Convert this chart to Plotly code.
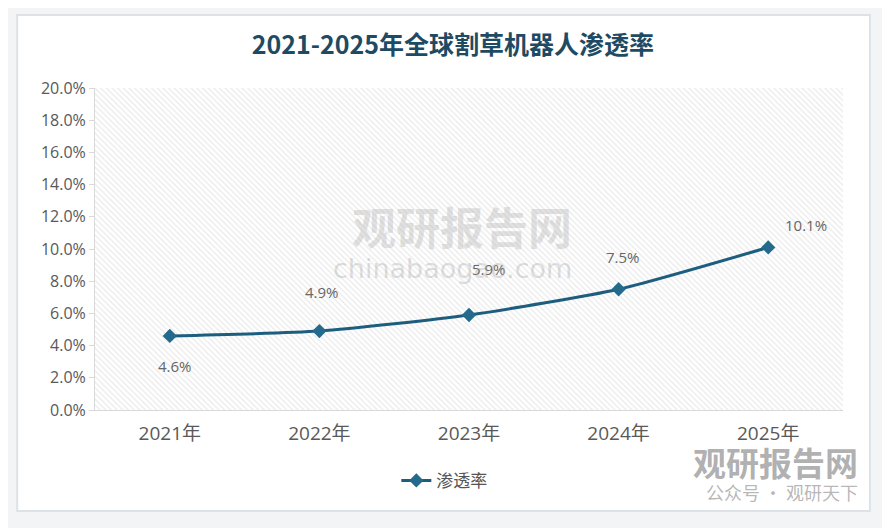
import plotly.graph_objects as go

# Data
years = ["2021年", "2022年", "2023年", "2024年", "2025年"]
penetration = [4.6, 4.9, 5.9, 7.5, 10.1]
y_max = 20
y_ticks = [0, 2, 4, 6, 8, 10, 12, 14, 16, 18, 20]

# data label offsets (px), as placed in the original chart
label_dx = [5, 3, 20, 4, 38]
label_dy = [-30, 39, 46, 32, 22]

line_color = "#1d5e7e"
text_grey = "#666666"

fig = go.Figure()

# hatched plot background (one bar per category, full height)
fig.add_trace(go.Bar(
    x=years,
    y=[y_max] * len(years),
    width=1,
    marker=dict(
        color="white",
        line=dict(width=0),
        pattern=dict(shape="\\", fgcolor="#d4d4d4", bgcolor="white", size=4, solidity=0.3),
    ),
    hoverinfo="skip",
    showlegend=False,
))

fig.add_trace(go.Scatter(
    x=years,
    y=penetration,
    mode="lines+markers",
    name="渗透率",
    line=dict(color=line_color, width=3, shape="spline", smoothing=0.6),
    marker=dict(symbol="diamond", size=11, color="#236a8c"),
    cliponaxis=False,
))

# data labels
for yr, v, dx, dy in zip(years, penetration, label_dx, label_dy):
    fig.add_annotation(x=yr, y=v, text=f"{v:.1f}%", showarrow=False,
                       xshift=dx, yshift=dy,
                       font=dict(size=15, color=text_grey, family="Open Sans, Noto Sans CJK SC"))

# card background
fig.add_shape(type="rect", xref="paper", yref="paper",
              x0=-0.104, x1=1.036, y0=-0.314, y1=1.227,
              fillcolor="white", line=dict(color="#dde2e6", width=2), layer="below")

# watermarks
fig.add_annotation(x=0.64, y=0.57, xref="paper", yref="paper", xanchor="right", yanchor="middle",
                   text="<b>观研报告网</b>", showarrow=False,
                   font=dict(size=44, color="rgba(170,170,170,0.35)", family="Noto Sans CJK SC"))
fig.add_annotation(x=0.64, y=0.44, xref="paper", yref="paper", xanchor="right", yanchor="middle",
                   text="chinabaogao.com", showarrow=False,
                   font=dict(size=27, color="rgba(160,160,160,0.35)", family="DejaVu Sans"))
fig.add_annotation(x=1.023, y=-0.16, xref="paper", yref="paper", xanchor="right", yanchor="middle",
                   text="<b>观研报告网</b>", showarrow=False,
                   font=dict(size=33, color="rgba(110,110,110,0.55)", family="Noto Sans CJK SC"))
fig.add_annotation(x=1.023, y=-0.255, xref="paper", yref="paper", xanchor="right", yanchor="middle",
                   text="公众号 · 观研天下", showarrow=False,
                   font=dict(size=18, color="rgba(120,120,120,0.55)", family="Noto Sans CJK SC"))

fig.update_layout(
    width=890,
    height=528,
    paper_bgcolor="#f2f4f5",
    plot_bgcolor="white",
    margin=dict(l=87, r=55, t=80, b=126),
    bargap=0,
    title=dict(
        text="<b>2021-2025年全球割草机器人渗透率</b>",
        x=0.5, xanchor="center", y=0.93, yanchor="middle",
        font=dict(size=25, color="#1e4b63", family="Noto Sans CJK SC"),
    ),
    legend=dict(
        orientation="h", x=0.467, xanchor="center", y=-0.22, yanchor="middle",
        font=dict(size=17, color="#555555", family="Noto Sans CJK SC"),
        bgcolor="rgba(0,0,0,0)",
    ),
    font=dict(family="Open Sans, Noto Sans CJK SC", color="#595959"),
)

fig.update_xaxes(
    type="category",
    showline=True, linecolor="#d9d9d9", linewidth=1,
    ticks="", showgrid=False,
    tickfont=dict(size=19, color="#595959", family="Open Sans, Noto Sans CJK SC"),
    ticklabelstandoff=6,
)

fig.update_yaxes(
    range=[0, y_max],
    tickvals=y_ticks,
    ticktext=[f"{v:.1f}%" for v in y_ticks],
    showline=True, linecolor="#d9d9d9", linewidth=1,
    ticks="outside", ticklen=5, tickcolor="#d9d9d9",
    showgrid=False, zeroline=False,
    tickfont=dict(size=16, color="#595959"),
)

fig.write_html("out.html")
